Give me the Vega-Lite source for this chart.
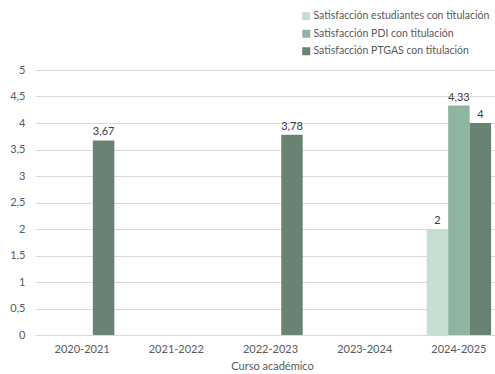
{
  "$schema": "https://vega.github.io/schema/vega-lite/v6.json",
  "autosize": "none",
  "width": 460,
  "height": 265,
  "padding": {"left": 35, "top": 70, "right": 0, "bottom": 39},
  "background": "white",
  "config": {
    "locale": {"number": {"decimal": ",", "thousands": ".", "grouping": [3], "currency": ["", " €"]}},
    "font": "Lato",
    "view": {"stroke": null}
  },
  "data": {
    "values": [
      {"curso": "2020-2021", "serie": "Satisfacción PTGAS con titulación", "valor": 3.67},
      {"curso": "2022-2023", "serie": "Satisfacción PTGAS con titulación", "valor": 3.78},
      {"curso": "2024-2025", "serie": "Satisfacción estudiantes con titulación", "valor": 2},
      {"curso": "2024-2025", "serie": "Satisfacción PDI con titulación", "valor": 4.33},
      {"curso": "2024-2025", "serie": "Satisfacción PTGAS con titulación", "valor": 4}
    ]
  },
  "encoding": {
    "x": {
      "field": "curso", "type": "nominal",
      "scale": {"domain": ["2020-2021", "2021-2022", "2022-2023", "2023-2024", "2024-2025"], "range": [0, 471], "paddingInner": 0.316, "paddingOuter": 0.158},
      "axis": {"title": "Curso académico", "titleX": 237, "labelAngle": 0, "labelFontSize": 11, "labelColor": "#595959", "titleColor": "#595959", "titleFontSize": 11, "titleFontWeight": "normal", "titlePadding": 6, "labelPadding": 8, "ticks": false, "domainColor": "#d9d9d9", "grid": false}
    },
    "xOffset": {
      "field": "serie", "type": "nominal",
      "scale": {"domain": ["Satisfacción estudiantes con titulación", "Satisfacción PDI con titulación", "Satisfacción PTGAS con titulación"], "paddingInner": 0, "paddingOuter": 0}
    },
    "y": {
      "field": "valor", "type": "quantitative",
      "scale": {"domain": [0, 5]},
      "axis": {"title": null, "values": [0, 0.5, 1, 1.5, 2, 2.5, 3, 3.5, 4, 4.5, 5], "format": ".1~f", "labelFontSize": 11, "labelColor": "#595959", "labelPadding": 10, "ticks": false, "domain": false, "gridColor": "#d9d9d9", "gridWidth": 1}
    }
  },
  "layer": [
    {
      "mark": {"type": "bar"},
      "encoding": {
        "color": {
          "field": "serie", "type": "nominal",
          "scale": {"domain": ["Satisfacción estudiantes con titulación", "Satisfacción PDI con titulación", "Satisfacción PTGAS con titulación"], "range": ["#c6ddd1", "#8fb5a0", "#6a8274"]},
          "legend": {"orient": "none", "legendX": 266, "legendY": -59, "title": null, "symbolType": "square", "symbolSize": 64, "symbolStrokeWidth": 0, "labelFontSize": 10.5, "labelColor": "#595959", "rowPadding": 6.5, "labelOffset": 2, "labelLimit": 0}
        }
      }
    },
    {
      "mark": {"type": "text", "dy": -8, "fontSize": 11, "color": "#404040"},
      "encoding": {"text": {"field": "valor", "type": "quantitative", "format": ".2~f"}}
    }
  ]
}
